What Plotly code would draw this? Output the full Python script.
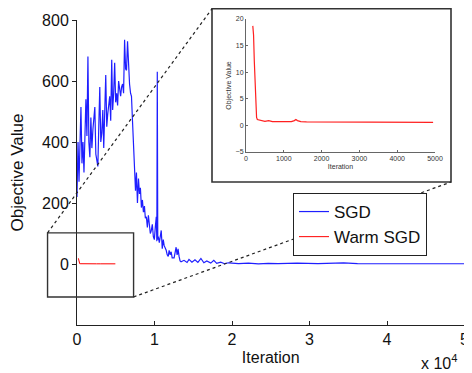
import plotly.graph_objects as go

# ---------------- data ----------------
sgd_iter = [0, 130, 260, 380, 510, 640, 770, 900, 1150, 1280, 1410, 1530, 1660, 1790, 1920,
            2050, 2170, 2300, 2430, 2690, 2810, 2940, 3070, 3200, 3330, 3450, 3710, 3840, 3960,
            4220, 4350, 4480, 4600, 4730, 4860, 4990, 5120, 5240, 5370, 5500, 5630, 5750, 5880,
            6010, 6140, 6270, 6390, 6520, 6650, 6780, 6910, 7030, 7160, 7290, 7420, 7550, 7670,
            7800, 7930, 8060, 8180, 8310, 8440, 8570, 8700, 8820, 8950, 9080, 9210, 9340, 9460,
            9590, 9720, 9850, 9980, 10100, 10230, 10300, 10360, 10420, 10490, 10620, 10740, 10870,
            11000, 11130, 11250, 11510, 11640, 11770, 11890, 12020, 12150, 12280, 12530, 12660,
            12790, 12920, 13040, 13170, 13300, 13430, 13810, 14200, 14450, 14830, 15220, 15600,
            15990, 16370, 16750, 17260, 17650, 18030, 18540, 19050, 19570, 20850, 22120, 23400,
            24680, 25960, 28400, 31080, 34400, 36190, 41300, 46420, 50000]
sgd_val = [220, 400, 270, 380, 515, 330, 400, 300, 540, 420, 680, 400, 350, 480, 380,
           440, 470, 515, 360, 320, 450, 580, 400, 430, 505, 380, 620, 450, 490,
           550, 470, 670, 505, 560, 660, 530, 560, 520, 600, 560, 550, 580, 590,
           560, 735, 640, 635, 730, 650, 590, 560, 550, 470, 380, 300, 240, 300,
           200, 280, 230, 250, 185, 210, 170, 190, 150, 155, 120, 160, 135, 100,
           110, 130, 90, 80, 120, 155, 75, 630, 80, 90, 70, 100, 110,
           50, 80, 60, 45, 30, 25, 45, 30, 40, 20, 20, 40,
           55, 30, 50, 25, 10, 7, 12, 5, 15, 6, 14, 5,
           18, 4, 10, 3, 12, 2, 6, 1, 4, 1, 3, 0.5,
           2, 1, 3, 1, 4, 1, 1.5, 0.5, 0.8]

warm_iter = [180, 200, 220, 240, 260, 280, 300, 350, 400, 500, 600, 650, 700, 800, 1000,
             1200, 1280, 1320, 1360, 1450, 1600, 2000, 2500, 3000, 3500, 4000, 4500, 4950]
warm_val = [18.7, 17, 12, 8, 4, 1.5, 1.1, 1.0, 0.9, 0.75, 0.9, 0.8, 0.7, 0.7, 0.65,
            0.7, 0.9, 1.1, 0.9, 0.7, 0.65, 0.65, 0.6, 0.6, 0.6, 0.6, 0.55, 0.55]

main_xticks = [0, 10000, 20000, 30000, 40000, 50000]
main_xticktext = ["0", "1", "2", "3", "4", "5"]
main_yticks = [0, 200, 400, 600, 800]
inset_xticks = [0, 1000, 2000, 3000, 4000, 5000]
inset_yticks = [-5, 0, 5, 10, 15, 20]

# zoomed region (data coords of the main axes)
zoom_x = [-3800, 7300]
zoom_y = [-108, 102]

# ---------------- layout geometry ----------------
# the page body has an 8px margin, so the figure is offset by OFF
OFF = 8
W, H = 472 - OFF, 373 - OFF
X_RANGE = [0, 50000]
Y_RANGE = [-200, 800]


def fx(p):
    return (p - OFF) / W


def fy(p):
    return 1 - (p - OFF) / H


main_dx = [fx(77), fx(464.5)]
main_dy = [fy(325), fy(20)]
inset_dx = [fx(246), fx(435)]
inset_dy = [fy(152), fy(19)]
frame_x = [fx(212), fx(451)]
frame_y = [fy(182), fy(8) - 0.002]


def px_x(v):
    return main_dx[0] + (v - X_RANGE[0]) / (X_RANGE[1] - X_RANGE[0]) * (main_dx[1] - main_dx[0])


def px_y(v):
    return main_dy[0] + (v - Y_RANGE[0]) / (Y_RANGE[1] - Y_RANGE[0]) * (main_dy[1] - main_dy[0])


FONT = "Liberation Sans, Arial, Helvetica, sans-serif"

fig = go.Figure()
fig.add_trace(go.Scatter(x=sgd_iter, y=sgd_val, mode="lines", name="SGD",
                         line=dict(color="#1f1fff", width=1.2), xaxis="x", yaxis="y"))
fig.add_trace(go.Scatter(x=warm_iter, y=warm_val, mode="lines", name="Warm SGD",
                         line=dict(color="#ff0000", width=1), xaxis="x", yaxis="y"))
fig.add_trace(go.Scatter(x=warm_iter, y=warm_val, mode="lines", name="Warm SGD",
                         showlegend=False, line=dict(color="#ff2020", width=1.2),
                         xaxis="x2", yaxis="y2"))

shapes = [
    # inset frame
    dict(type="rect", xref="paper", yref="paper", x0=frame_x[0], x1=frame_x[1],
         y0=frame_y[0], y1=frame_y[1], line=dict(color="#333333", width=1.6),
         fillcolor="rgba(0,0,0,0)", layer="above"),
    # zoom rectangle
    dict(type="rect", xref="paper", yref="paper", x0=px_x(zoom_x[0]), x1=px_x(zoom_x[1]),
         y0=px_y(zoom_y[0]), y1=px_y(zoom_y[1]), line=dict(color="#333333", width=1.4),
         fillcolor="rgba(0,0,0,0)", layer="above"),
    # connector lines
    dict(type="line", xref="paper", yref="paper", x0=px_x(zoom_x[0]), y0=px_y(zoom_y[1]),
         x1=frame_x[0], y1=frame_y[1], line=dict(color="#222222", width=1.2, dash="dot"),
         layer="above"),
    dict(type="line", xref="paper", yref="paper", x0=px_x(zoom_x[1]), y0=px_y(zoom_y[0]),
         x1=frame_x[1], y1=frame_y[0], line=dict(color="#222222", width=1.2, dash="dot"),
         layer="above"),
]

fig.update_layout(
    width=W, height=H,
    margin=dict(l=0, r=0, t=0, b=0),
    paper_bgcolor="white",
    plot_bgcolor="rgba(0,0,0,0)",
    font=dict(family=FONT, size=16, color="#111111"),
    showlegend=True,
    legend=dict(x=fx(293), y=fy(193), xanchor="left", yanchor="top",
                bgcolor="white", bordercolor="#222222", borderwidth=1,
                font=dict(size=17, family=FONT, color="#111111"),
                itemwidth=30, tracegroupgap=0),
    xaxis=dict(domain=main_dx, range=X_RANGE, anchor="y", automargin=False,
               tickvals=main_xticks, ticktext=main_xticktext,
               ticklabeloverflow="allow",
               showline=True, linecolor="#222222", linewidth=1,
               ticks="inside", ticklen=4, tickcolor="#222222",
               showgrid=False, zeroline=False,
               title=dict(text="Iteration", font=dict(size=16), standoff=4)),
    yaxis=dict(domain=main_dy, range=Y_RANGE, anchor="x", automargin=False,
               tickvals=main_yticks,
               showline=True, linecolor="#222222", linewidth=1,
               ticks="outside", ticklen=4, tickcolor="#222222",
               showgrid=False, zeroline=False,
               title=dict(text="Objective Value", font=dict(size=17), standoff=14)),
    xaxis2=dict(domain=inset_dx, range=[0, 5000], anchor="y2", automargin=False,
                tickvals=inset_xticks,
                showline=True, linecolor="#666666", linewidth=1,
                ticks="inside", ticklen=2, tickcolor="#666666",
                tickfont=dict(size=7, color="#333333"),
                showgrid=False, zeroline=False,
                title=dict(text="Iteration", font=dict(size=7, color="#333333"), standoff=2)),
    yaxis2=dict(domain=inset_dy, range=[-5, 20], anchor="x2", automargin=False,
                tickvals=inset_yticks,
                showline=True, linecolor="#666666", linewidth=1,
                ticks="inside", ticklen=2, tickcolor="#666666",
                tickfont=dict(size=7, color="#333333"),
                showgrid=False, zeroline=False,
                title=dict(text="Objective Value", font=dict(size=7, color="#333333"), standoff=3)),
    shapes=shapes,
    annotations=[dict(text="x 10<sup>4</sup>", xref="paper", yref="paper",
                      x=fx(459), y=fy(362), xanchor="right", yanchor="middle",
                      showarrow=False, font=dict(size=16, family=FONT, color="#111111"))],
)

fig.write_html("out.html")
